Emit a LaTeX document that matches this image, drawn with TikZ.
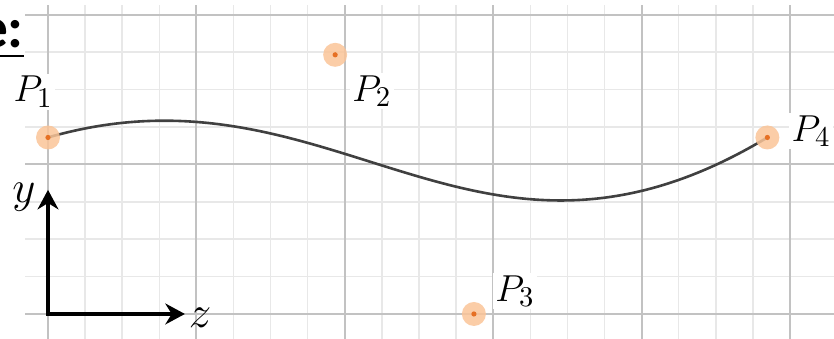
\documentclass[tikz,border=0pt]{standalone}
\usepackage{amsmath}
\usepackage{fontspec}
\newfontfamily\headfont{Carlito}
\usetikzlibrary{arrows.meta}

\definecolor{haloorange}{RGB}{250,196,152}
\definecolor{coreorange}{RGB}{230,112,36}

\begin{document}
\begin{tikzpicture}[x=0.5cm, y=0.504cm,
    gridminor/.style={draw=black!9, line width=0.6pt},
    gridmajor/.style={draw=black!24, line width=0.8pt},
    halo/.style={fill=haloorange, opacity=0.85},
    core/.style={fill=coreorange},
    lbl/.style={fill=white, inner sep=1pt, font=\fontsize{15}{17}\selectfont},
    curve/.style={draw=black!75, line width=1pt},
    axisarrow/.style={line width=1.5pt, {Stealth[length=7.5pt,width=8pt]}-{Stealth[length=7.5pt,width=8pt]}}]

    \useasboundingbox (-1.294,-0.668) rectangle (21.186,8.396);

    % grid
    \foreach \x in {0,...,20} \draw[gridminor] (\x,-0.7) -- (\x,8.27);
    \foreach \y in {0,...,8} \draw[gridminor] (-0.62,\y) -- (21.2,\y);
    \foreach \x in {0,4,...,20} \draw[gridmajor] (\x,-0.7) -- (\x,8.27);
    \foreach \y in {0,4,8} \draw[gridmajor] (-0.62,\y) -- (21.2,\y);

    \node[anchor=base east, inner sep=0pt, font=\headfont\bfseries\fontsize{22}{24}\selectfont] (head) at (-0.64,7.12) {\underline{e:}};

    % control points
    \coordinate (P1) at (0,4.72);
    \coordinate (P2) at (7.74,6.93);
    \coordinate (P3) at (11.48,0);
    \coordinate (P4) at (19.39,4.72);

    \draw[curve] (P1) .. controls (P2) and (P3) .. (P4);

    \foreach \i in {1,...,4} {
        \fill[halo] (P\i) circle (4.6pt);
        \fill[core] (P\i) circle (1pt);
    }

    \node[lbl] (L1) at (-0.40,5.94) {$P_1$};
    \node[lbl] (L2) at (8.73,5.96) {$P_2$};
    \node[lbl] (L3) at (12.59,0.61) {$P_3$};
    \node[lbl] (L4) at (20.57,4.89) {$P_4$};

    % axes
    \coordinate (O) at (0,0);
    \coordinate (ytip) at (0,3.32);
    \coordinate (ztip) at (3.69,0);
    \draw[axisarrow] (ytip) -- (O) -- (ztip);
    \node[lbl, fill=none, font=\fontsize{16}{18}\selectfont] (ylab) at (-0.65,3.13) {$y$};
    \node[lbl, fill=none, font=\fontsize{16}{18}\selectfont] (zlab) at (4.10,-0.11) {$z$};
\end{tikzpicture}
\end{document}
